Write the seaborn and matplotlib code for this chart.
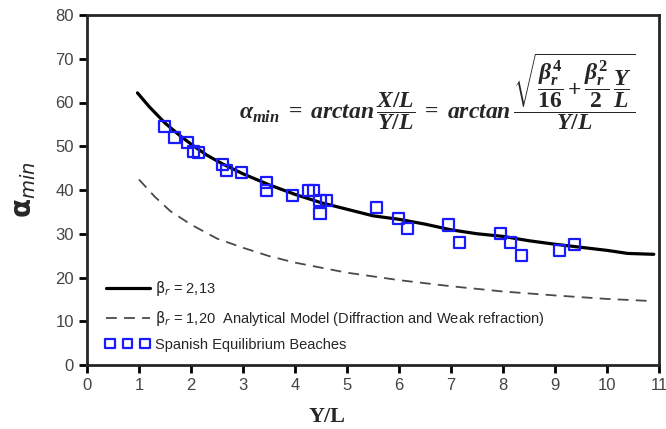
import numpy as np
import pandas as pd
import matplotlib
matplotlib.use("Agg")
import matplotlib.pyplot as plt
from matplotlib.font_manager import FontProperties
import seaborn as sns

# solid curve, beta_r = 2,13
solid_x = [0.97, 1.2, 1.5, 1.8, 2.0, 2.3, 2.6, 3.0, 3.5, 4.0, 4.5, 5.0, 5.5, 6.0,
           6.5, 7.0, 7.5, 8.0, 8.5, 9.0, 9.5, 10.0, 10.4, 10.9]
solid_y = [62.2, 59.0, 55.3, 52.3, 50.5, 48.0, 46.0, 43.7, 41.2, 39.0, 37.1, 35.6,
           34.1, 33.3, 32.2, 30.9, 30.0, 29.4, 28.4, 27.6, 26.9, 26.2, 25.5, 25.3]

# dashed curve, beta_r = 1,20
dash_x = [1.0, 1.3, 1.6, 2.0, 2.5, 3.0, 3.5, 4.0, 5.0, 6.0, 7.0, 8.0, 9.0, 10.0, 10.9]
dash_y = [42.4, 38.5, 35.2, 32.1, 28.9, 26.8, 24.9, 23.4, 21.1, 19.4, 18.0, 16.8,
          15.9, 15.1, 14.6]

# Spanish equilibrium beaches
beach_x = [1.49, 1.69, 1.94, 2.04, 2.15, 2.60, 2.69, 2.97, 3.46, 3.46, 3.96, 4.26,
           4.35, 4.48, 4.60, 4.48, 5.57, 5.99, 6.16, 6.95, 7.16, 7.96, 8.15, 8.35,
           9.08, 9.38]
beach_y = [54.6, 52.0, 50.8, 48.9, 48.5, 45.8, 44.4, 44.0, 41.8, 39.8, 38.8, 39.8,
           39.8, 37.7, 37.7, 34.7, 36.0, 33.5, 31.2, 32.0, 28.0, 30.1, 28.0, 25.0,
           26.1, 27.6]

solid = pd.DataFrame({"x": solid_x, "y": solid_y})
dashed = pd.DataFrame({"x": dash_x, "y": dash_y})
beaches = pd.DataFrame({"x": beach_x, "y": beach_y})

sns.set_style("ticks")
plt.rcParams["font.family"] = ["Liberation Sans", "DejaVu Sans"]
plt.rcParams["mathtext.fontset"] = "custom"
plt.rcParams["mathtext.rm"] = "Liberation Serif:bold"
plt.rcParams["mathtext.it"] = "Liberation Serif:italic:bold"
plt.rcParams["mathtext.bf"] = "Liberation Serif:bold"

fig = plt.figure(figsize=(6.66, 4.29), dpi=100)
ax = fig.add_axes([87 / 666, 1 - 365 / 429, 572 / 666, 350 / 429])

sns.lineplot(data=solid, x="x", y="y", ax=ax, color="black", lw=2.3,
             label=r"$\mathrm{\beta}_r$ = 2,13", sort=False)
sns.lineplot(data=dashed, x="x", y="y", ax=ax, color="#4a4a4a", lw=1.3,
             label=r"$\mathrm{\beta}_r$ = 1,20  Analytical Model (Diffraction and Weak refraction)",
             sort=False)
ax.lines[1].set_dashes([6, 4])
sns.scatterplot(data=beaches, x="x", y="y", ax=ax, marker="s", s=64,
                facecolor="none", edgecolor="#1a1aff", linewidth=1.6,
                label="Spanish Equilibrium Beaches", zorder=3)

ax.set_xlim(0, 11)
ax.set_ylim(0, 80)
ax.set_xticks(range(0, 12))
ax.set_yticks(range(0, 81, 10))
for s in ax.spines.values():
    s.set_linewidth(2)
ax.tick_params(length=6, width=2, labelsize=12, labelcolor="#444444", color="black")

ax.set_xlabel("Y/L", fontsize=16, fontweight="bold", family="Liberation Serif")
ax.xaxis.set_label_coords(0.42, -0.12)
ax.set_ylabel(r"$\mathbf{\alpha}_{\mathit{min}}$", fontsize=20, math_fontfamily="dejavusans")
ax.yaxis.set_label_coords(-0.085, 0.5)

formula = (r"$\alpha_{min}\;=\;arctan\,\dfrac{X/L}{Y/L}\;=\;arctan\,"
           r"\dfrac{\sqrt{\dfrac{\beta_r^4}{16}+\dfrac{\beta_r^2}{2}\,\dfrac{Y}{L}}}{Y/L}$")
ax.text(0.959, 0.78, formula, transform=ax.transAxes, fontsize=17,
        ha="right", va="center")

leg_font = FontProperties(family="Liberation Sans", size=10.5, math_fontfamily="dejavusans")
ax.legend(loc="lower left", bbox_to_anchor=(0.01, 0.0), frameon=False,
          prop=leg_font, scatterpoints=3, scatteryoffsets=[0.5], markerscale=0.85,
          handlelength=3, handletextpad=0.4, labelspacing=0.7)

fig.savefig("out.png", dpi=100)
